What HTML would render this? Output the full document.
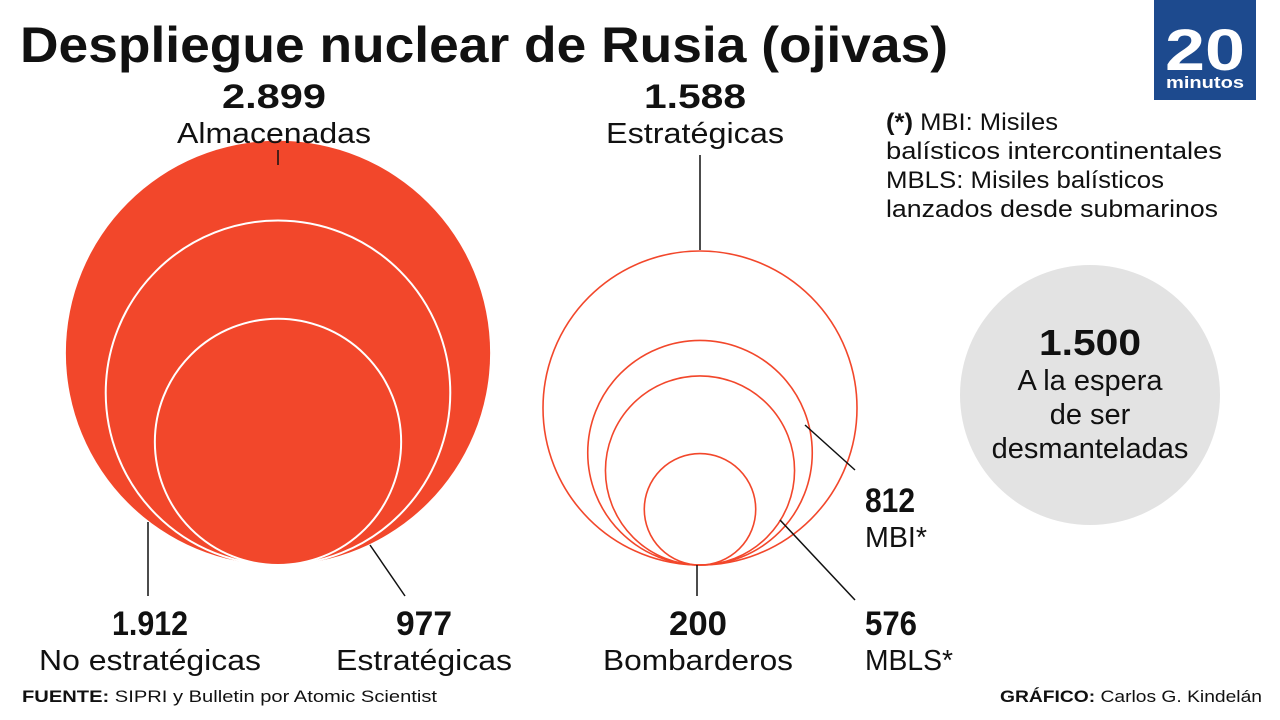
<!DOCTYPE html>
<html><head><meta charset="utf-8"><style>
body{margin:0;background:#fff}svg{display:block;font-family:"Liberation Sans",sans-serif}
</style></head><body>
<svg id="c" width="1280" height="720" viewBox="0 0 1280 720">
<text x="20" y="62" font-size="50" font-weight="bold" textLength="928" lengthAdjust="spacingAndGlyphs" fill="#111">Despliegue nuclear de Rusia (ojivas)</text>
<g>
<rect x="1154" y="0" width="102" height="100" fill="#1d4a8e"/>
<text x="1205" y="70" font-size="58" font-weight="bold" fill="#fff" text-anchor="middle" textLength="80" lengthAdjust="spacingAndGlyphs">20</text>
<text x="1205" y="88" font-size="17" font-weight="bold" fill="#fff" text-anchor="middle" textLength="78" lengthAdjust="spacingAndGlyphs">minutos</text>
</g>
<g font-size="24" fill="#111">
<text x="886" y="130" textLength="172" lengthAdjust="spacingAndGlyphs"><tspan font-weight="bold">(*)</tspan> MBI: Misiles</text>
<text x="886" y="159" textLength="336" lengthAdjust="spacingAndGlyphs">balísticos intercontinentales</text>
<text x="886" y="188" textLength="278" lengthAdjust="spacingAndGlyphs">MBLS: Misiles balísticos</text>
<text x="886" y="217" textLength="332" lengthAdjust="spacingAndGlyphs">lanzados desde submarinos</text>
</g>
<g id="marks"></g>
<text x="22" y="702" font-size="17" fill="#111" textLength="415" lengthAdjust="spacingAndGlyphs"><tspan font-weight="bold">FUENTE:</tspan> SIPRI y Bulletin por Atomic Scientist</text>
<text x="1262" y="702" font-size="17" fill="#111" text-anchor="end" textLength="262" lengthAdjust="spacingAndGlyphs"><tspan font-weight="bold">GRÁFICO:</tspan> Carlos G. Kindelán</text>
</svg>
<script>
const storedLabels=["Almacenadas","No estratégicas","Estratégicas"];
const storedValues=[2899,1912,977];
const strategicLabels=["Estratégicas","MBI*","MBLS*","Bombarderos"];
const strategicValues=[1588,812,576,200];
const waitingValues=[1500];
const waitingLabels=["A la espera","de ser","desmanteladas"];
const fmt=v=>String(v).replace(/\B(?=(\d{3})+(?!\d))/g,".");
const k=157/Math.sqrt(1588);
const rScale=v=>k*Math.sqrt(v);
const NS="http://www.w3.org/2000/svg";
const g=document.getElementById('marks');
function mk(tag,a,txt){const e=document.createElementNS(NS,tag);for(const n in a)e.setAttribute(n,a[n]);if(txt!==undefined)e.textContent=txt;g.appendChild(e);return e;}
const RED="#f2472b";
const base=565;
storedValues.forEach((v,i)=>{const r=rScale(v);
const c=mk('circle',{cx:278,cy:base-r,r:r,fill:RED,stroke:i?"#fff":"none","stroke-width":2});

});
strategicValues.forEach((v,i)=>{const r=rScale(v);
const c=mk('circle',{cx:700,cy:base-r,r:r,fill:"none",stroke:RED,"stroke-width":1.6});

});
const wr=130*Math.sqrt(waitingValues[0]/1500);
const wc=mk('circle',{cx:1090,cy:395,r:wr,fill:"#e3e3e3"});


[[278,150,278,165],[148,522,148,596],[370,545,405,596],[700,155,700,250],[805,425,855,470],[780,520,855,600],[697,565,697,596]].forEach(l=>{
const e=mk('line',{x1:l[0],y1:l[1],x2:l[2],y2:l[3],stroke:"#111","stroke-width":1.5});

});
function label(x,y,val,name,anchor,w1,w2,gap){
const a=mk('text',{x:x,y:y,"font-size":34,"font-weight":"bold","text-anchor":anchor,fill:"#111",textLength:w1,lengthAdjust:"spacingAndGlyphs"},fmt(val));


const b=mk('text',{x:x,y:y+(gap||35),"font-size":29,"text-anchor":anchor,fill:"#111",textLength:w2,lengthAdjust:"spacingAndGlyphs"},name);

}
label(274,108,storedValues[0],storedLabels[0],"middle",104,194);
label(150,635,storedValues[1],storedLabels[1],"middle",76,222);
label(424,635,storedValues[2],storedLabels[2],"middle",56,176);
label(695,108,strategicValues[0],strategicLabels[0],"middle",102,178);
label(865,512,strategicValues[1],strategicLabels[1],"start",50,62);
label(865,635,strategicValues[2],strategicLabels[2],"start",52,88);
label(698,635,strategicValues[3],strategicLabels[3],"middle",58,190);
const wv=mk('text',{x:1090,y:355,"font-size":36,"font-weight":"bold","text-anchor":"middle",fill:"#111",textLength:102,lengthAdjust:"spacingAndGlyphs"},fmt(waitingValues[0]));


waitingLabels.forEach((t,i)=>{const e=mk('text',{x:1090,y:390+i*34,"font-size":29,"text-anchor":"middle",fill:"#111"},t);

});
</script>
</body></html>
